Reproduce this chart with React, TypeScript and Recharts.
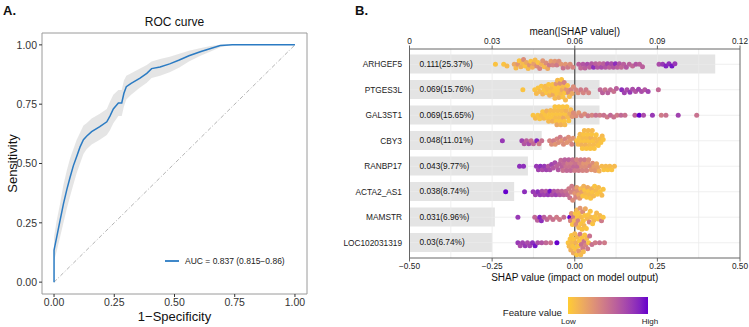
import React from "react";
import {
  ComposedChart,
  Line,
  Area,
  Bar,
  Scatter,
  XAxis,
  YAxis,
  ReferenceLine,
  ReferenceArea,
  LabelList,
  Legend,
} from "recharts";

const FONT = '"Liberation Sans", Arial, sans-serif';
const ROC_BLUE = "#2B7BC3";
const LOW_COLOR = "#FFCC33";
const HIGH_COLOR = "#6600CC";

// ---- panel A: ROC curve ----
const ROC_FPR = [0, 0, 0.011, 0.025, 0.039, 0.053, 0.066, 0.08, 0.094, 0.108, 0.122, 0.135, 0.156, 0.19, 0.219, 0.232, 0.246, 0.267, 0.281, 0.29, 0.3, 0.32, 0.357, 0.385, 0.405, 0.44, 0.48, 0.52, 0.56, 0.61, 0.65, 0.69, 0.74, 1];
const ROC_TPR = [0, 0.135, 0.19, 0.26, 0.33, 0.39, 0.44, 0.49, 0.53, 0.57, 0.6, 0.615, 0.634, 0.655, 0.676, 0.7, 0.73, 0.755, 0.755, 0.796, 0.824, 0.838, 0.86, 0.88, 0.9, 0.907, 0.92, 0.936, 0.954, 0.972, 0.985, 0.997, 1, 1];
const CI_LOW = [0, 0.09, 0.13, 0.19, 0.25, 0.31, 0.36, 0.41, 0.46, 0.5, 0.54, 0.56, 0.58, 0.6, 0.62, 0.64, 0.67, 0.7, 0.7, 0.74, 0.77, 0.79, 0.82, 0.84, 0.86, 0.87, 0.885, 0.905, 0.93, 0.955, 0.972, 0.99, 1, 1];
const CI_HIGH = [0, 0.19, 0.26, 0.33, 0.41, 0.47, 0.52, 0.56, 0.6, 0.63, 0.66, 0.67, 0.69, 0.71, 0.73, 0.76, 0.79, 0.81, 0.81, 0.85, 0.87, 0.88, 0.9, 0.915, 0.93, 0.94, 0.95, 0.963, 0.975, 0.987, 0.995, 1, 1, 1];
const ROC_TICKS = [0, 0.25, 0.5, 0.75, 1];
const AUC_LABEL = "AUC = 0.837 (0.815\u22120.86)";

const rocData = ROC_FPR.map((fpr, i) => ({
  fpr,
  tpr: ROC_TPR[i],
  band: [CI_LOW[i], CI_HIGH[i]],
}));

// ---- panel B: SHAP summary ----
const FEATURES = ["ARHGEF5", "PTGES3L", "GAL3ST1", "CBY3", "RANBP17", "ACTA2_AS1", "MAMSTR", "LOC102031319"];
const MEAN_SHAP = [0.111, 0.069, 0.069, 0.048, 0.043, 0.038, 0.031, 0.03];
const SHARE = ["25.37%", "15.76%", "15.65%", "11.01%", "9.77%", "8.74%", "6.96%", "6.74%"];
const TOP_TICKS = [0, 0.03, 0.06, 0.09, 0.12];
const SHAP_TICKS = [-0.5, -0.25, 0, 0.25, 0.5];
const GRID_X = [-0.375, -0.25, -0.125, 0.125, 0.25, 0.375];

// [shap value, scaled feature value]
const ARHGEF5_PTS = [
  [-0.24, 0.05], [-0.215, 0.05], [-0.205, 0.1], [-0.183, 0.2], [-0.178, 0.1], [-0.172, 0.3], [-0.168, 0.05], [-0.163, 0.15], [-0.158, 0.1], [-0.155, 0.35], [-0.15, 0.05], [-0.146, 0.2], [-0.141, 0.1], [-0.137, 0.3], [-0.133, 0.05], [-0.128, 0.15], [-0.124, 0.25], [-0.12, 0.1], [-0.115, 0.35], [-0.111, 0.05], [-0.106, 0.4], [-0.101, 0.15], [-0.097, 0.3], [-0.092, 0.1], [-0.087, 0.35], [-0.082, 0.2], [-0.077, 0.45], [-0.072, 0.25], [-0.066, 0.4], [-0.06, 0.3], [-0.054, 0.45], [-0.048, 0.35], [-0.041, 0.3], [-0.035, 0.5], [-0.028, 0.3], [-0.021, 0.45], [-0.014, 0.35], [-0.006, 0.4],
  [0.012, 0.6], [0.018, 0.55], [0.025, 0.65], [0.031, 0.6], [0.038, 0.7], [0.045, 0.6], [0.051, 0.65], [0.057, 0.85], [0.063, 0.6], [0.069, 0.65], [0.075, 0.55], [0.081, 0.7], [0.087, 0.6], [0.093, 0.65], [0.099, 0.75], [0.105, 0.6], [0.111, 0.7], [0.117, 0.65], [0.123, 0.85], [0.129, 0.6], [0.135, 0.65], [0.141, 0.55], [0.148, 0.6], [0.156, 0.65], [0.165, 0.6], [0.175, 0.55], [0.185, 0.65], [0.196, 0.6], [0.205, 0.6],
  [0.255, 0.7], [0.266, 0.8], [0.276, 0.9], [0.285, 0.85], [0.294, 0.95], [0.303, 0.8],
];
const PTGES3L_PTS = [
  [-0.157, 0.05], [-0.121, 0.05], [-0.116, 0.1], [-0.111, 0.05], [-0.106, 0.1], [-0.101, 0.05], [-0.097, 0.15], [-0.093, 0.05], [-0.089, 0.1], [-0.085, 0.05], [-0.082, 0.1], [-0.079, 0.05], [-0.076, 0.15], [-0.073, 0.05], [-0.07, 0.1], [-0.067, 0.05], [-0.065, 0.2], [-0.062, 0.05], [-0.06, 0.1], [-0.058, 0.05], [-0.056, 0.3], [-0.054, 0.05], [-0.052, 0.1], [-0.05, 0.05], [-0.048, 0.15], [-0.046, 0.05], [-0.044, 0.35], [-0.042, 0.1], [-0.04, 0.05], [-0.038, 0.2], [-0.036, 0.05], [-0.034, 0.1], [-0.032, 0.4], [-0.03, 0.05], [-0.028, 0.1], [-0.025, 0.3], [-0.022, 0.05], [-0.019, 0.35], [-0.016, 0.1], [-0.012, 0.4], [-0.008, 0.2], [-0.004, 0.35],
  [0.003, 0.4], [0.01, 0.35], [0.018, 0.45], [0.026, 0.4], [0.034, 0.45], [0.042, 0.4],
  [0.077, 0.55], [0.084, 0.6], [0.092, 0.5], [0.1, 0.6], [0.108, 0.55], [0.118, 0.5], [0.126, 0.6],
  [0.142, 0.85], [0.15, 0.75], [0.158, 0.7], [0.167, 0.8], [0.175, 0.7], [0.184, 0.65], [0.193, 0.75], [0.202, 0.7], [0.212, 0.65], [0.222, 0.75], [0.253, 0.55],
];
const GAL3ST1_PTS = [
  [-0.126, 0.05], [-0.119, 0.1], [-0.112, 0.05], [-0.106, 0.05], [-0.101, 0.1], [-0.097, 0.05], [-0.093, 0.1], [-0.089, 0.05], [-0.085, 0.15], [-0.082, 0.05], [-0.079, 0.1], [-0.076, 0.05], [-0.073, 0.1], [-0.07, 0.05], [-0.067, 0.15], [-0.064, 0.05], [-0.062, 0.1], [-0.06, 0.05], [-0.058, 0.1], [-0.056, 0.05], [-0.054, 0.2], [-0.052, 0.05], [-0.05, 0.1], [-0.048, 0.05], [-0.046, 0.1], [-0.044, 0.05], [-0.042, 0.15], [-0.04, 0.05], [-0.038, 0.1], [-0.036, 0.05], [-0.034, 0.2], [-0.032, 0.05], [-0.03, 0.1], [-0.028, 0.05], [-0.026, 0.15], [-0.024, 0.05], [-0.021, 0.1], [-0.018, 0.05], [-0.015, 0.2], [-0.012, 0.1], [-0.008, 0.3], [-0.004, 0.35],
  [0.004, 0.35], [0.012, 0.3], [0.02, 0.4], [0.03, 0.35], [0.04, 0.45], [0.052, 0.4], [0.064, 0.5], [0.076, 0.45], [0.088, 0.5], [0.098, 0.45], [0.108, 0.55], [0.118, 0.5], [0.128, 0.45], [0.14, 0.55], [0.152, 0.5],
  [0.182, 0.6], [0.195, 1], [0.208, 0.7], [0.235, 0.8], [0.262, 0.45], [0.276, 0.5], [0.313, 0.75], [0.369, 0.5],
];
const CBY3_PTS = [
  [-0.219, 0.8], [-0.16, 0.75], [-0.153, 0.65], [-0.146, 0.6], [-0.139, 0.7], [-0.132, 0.5], [-0.125, 0.55], [-0.115, 0.9], [-0.108, 0.45], [-0.1, 0.5],
  [-0.076, 0.4], [-0.07, 0.35], [-0.064, 0.45], [-0.059, 0.3], [-0.054, 0.4], [-0.049, 0.35], [-0.044, 0.45], [-0.039, 0.3], [-0.034, 0.35], [-0.029, 0.4], [-0.024, 0.3], [-0.019, 0.35], [-0.014, 0.3], [-0.009, 0.4], [-0.005, 0.3],
  [0.006, 0.05], [0.01, 0.1], [0.013, 0.05], [0.016, 0.1], [0.019, 0.05], [0.021, 0.15], [0.023, 0.05], [0.025, 0.1], [0.027, 0.05], [0.029, 0.1], [0.031, 0.05], [0.033, 0.15], [0.035, 0.05], [0.037, 0.1], [0.039, 0.05], [0.041, 0.1], [0.043, 0.05], [0.045, 0.1], [0.047, 0.05], [0.049, 0.15], [0.051, 0.05], [0.053, 0.1], [0.055, 0.05], [0.057, 0.1], [0.059, 0.05], [0.062, 0.1], [0.065, 0.05], [0.068, 0.1], [0.071, 0.05], [0.075, 0.1], [0.079, 0.05], [0.083, 0.1], [0.086, 0.05],
];
const RANBP17_PTS = [
  [-0.167, 0.85], [-0.155, 0.85], [-0.116, 0.8], [-0.11, 0.75], [-0.104, 0.85], [-0.098, 0.7], [-0.092, 0.8], [-0.086, 0.75], [-0.08, 0.65], [-0.075, 0.7], [-0.07, 0.75], [-0.065, 0.65], [-0.06, 0.7], [-0.055, 0.6], [-0.05, 0.65], [-0.046, 0.6],
  [-0.042, 0.55], [-0.039, 0.6], [-0.036, 0.5], [-0.033, 0.55], [-0.03, 0.6], [-0.027, 0.5], [-0.024, 0.55], [-0.021, 0.45], [-0.018, 0.6], [-0.015, 0.5], [-0.012, 0.55], [-0.009, 0.45], [-0.006, 0.5], [-0.003, 0.55], [0, 0.45], [0.003, 0.5], [0.006, 0.4], [0.009, 0.55], [0.012, 0.45], [0.015, 0.4],
  [0.018, 0.45], [0.021, 0.35], [0.024, 0.4], [0.027, 0.3], [0.03, 0.45], [0.033, 0.35], [0.036, 0.4], [0.039, 0.3], [0.042, 0.35], [0.046, 0.4], [0.05, 0.3], [0.054, 0.35], [0.058, 0.25], [0.062, 0.3], [0.066, 0.2], [0.07, 0.25], [0.074, 0.15],
  [0.082, 0.1], [0.088, 0.05], [0.094, 0.1], [0.1, 0.05], [0.106, 0.1], [0.112, 0.05], [0.12, 0.1],
];
const ACTA2_AS1_PTS = [
  [-0.209, 1], [-0.152, 0.85], [-0.126, 0.8], [-0.119, 0.75], [-0.112, 0.85], [-0.105, 0.8], [-0.099, 0.7], [-0.093, 0.75], [-0.087, 0.65], [-0.081, 0.8], [-0.075, 0.95], [-0.069, 0.7], [-0.063, 0.65], [-0.057, 0.75], [-0.051, 0.6], [-0.045, 0.65], [-0.039, 0.55], [-0.033, 0.6], [-0.027, 0.5], [-0.022, 0.55],
  [-0.018, 0.45], [-0.015, 0.5], [-0.012, 0.4], [-0.009, 0.45], [-0.006, 0.35], [-0.003, 0.4], [0, 0.3], [0.003, 0.4], [0.006, 0.25], [0.009, 0.35], [0.012, 0.2], [0.015, 0.3], [0.018, 0.1], [0.021, 0.25], [0.024, 0.05], [0.027, 0.15], [0.03, 0.05], [0.033, 0.1], [0.036, 0.05], [0.039, 0.2], [0.042, 0.05], [0.045, 0.1], [0.048, 0.05], [0.051, 0.15], [0.054, 0.05], [0.057, 0.1], [0.06, 0.05], [0.064, 0.1], [0.068, 0.05], [0.072, 0.1], [0.077, 0.05], [0.082, 0.1], [0.086, 0.05],
];
const MAMSTR_PTS = [
  [-0.172, 0.8], [-0.121, 0.55], [-0.113, 0.6], [-0.106, 0.9], [-0.101, 0.85], [-0.093, 0.6], [-0.084, 0.55], [-0.075, 0.5], [-0.066, 0.5], [-0.055, 0.45], [-0.046, 0.45], [-0.033, 0.5], [-0.015, 1],
  [-0.013, 0.4], [-0.01, 0.3], [-0.007, 0.05], [-0.004, 0.45], [-0.001, 0.1], [0.002, 0.05], [0.004, 0.35], [0.006, 0.1], [0.008, 0.05], [0.01, 0.4], [0.012, 0.1], [0.014, 0.05], [0.016, 0.3], [0.018, 0.05], [0.02, 0.1], [0.022, 0.05], [0.024, 0.35], [0.026, 0.05], [0.028, 0.1], [0.03, 0.05], [0.032, 0.2], [0.035, 0.05], [0.038, 0.1], [0.041, 0.05], [0.044, 0.4], [0.047, 0.05], [0.05, 0.1], [0.054, 0.05], [0.058, 0.1], [0.062, 0.05], [0.066, 0.1], [0.071, 0.05], [0.076, 0.1], [0.081, 0.45], [0.086, 0.05],
];
const LOC102031319_PTS = [
  [-0.172, 0.8], [-0.165, 0.7], [-0.158, 0.75], [-0.15, 0.8], [-0.143, 0.7], [-0.136, 0.75], [-0.128, 0.85], [-0.12, 0.95], [-0.112, 0.7], [-0.1, 0.65], [-0.087, 0.55], [-0.073, 0.5], [-0.054, 1],
  [-0.02, 0.05], [-0.017, 0.1], [-0.014, 0.05], [-0.012, 0.15], [-0.01, 0.05], [-0.008, 0.1], [-0.006, 0.05], [-0.004, 0.2], [-0.002, 0.05], [0, 0.1], [0.002, 0.05], [0.004, 0.15], [0.006, 0.05], [0.008, 0.1], [0.01, 0.05], [0.012, 0.3], [0.014, 0.05], [0.016, 0.45], [0.018, 0.1], [0.02, 0.5], [0.022, 0.05], [0.024, 0.45], [0.026, 0.1], [0.028, 0.5], [0.03, 0.05], [0.033, 0.4], [0.036, 0.1], [0.039, 0.45], [0.042, 0.05], [0.045, 0.5],
  [0.052, 0.5], [0.062, 0.45], [0.075, 0.5], [0.09, 0.45],
];
const ROW_POINTS = [ARHGEF5_PTS, PTGES3L_PTS, GAL3ST1_PTS, CBY3_PTS, RANBP17_PTS, ACTA2_AS1_PTS, MAMSTR_PTS, LOC102031319_PTS];

// colour ramp in CIELAB, like ggplot's gradient scale
function hexToRgb(h: string) {
  return [1, 3, 5].map((i) => parseInt(h.slice(i, i + 2), 16));
}
function toLab(hex: string) {
  const [r, g, b] = hexToRgb(hex).map((c) => {
    const v = c / 255;
    return v <= 0.04045 ? v / 12.92 : Math.pow((v + 0.055) / 1.055, 2.4);
  });
  const X = (0.4124 * r + 0.3576 * g + 0.1805 * b) / 0.95047;
  const Y = 0.2126 * r + 0.7152 * g + 0.0722 * b;
  const Z = (0.0193 * r + 0.1192 * g + 0.9505 * b) / 1.08883;
  const f = (t: number) => (t > 0.008856 ? Math.cbrt(t) : 7.787 * t + 16 / 116);
  const fx = f(X), fy = f(Y), fz = f(Z);
  return [116 * fy - 16, 500 * (fx - fy), 200 * (fy - fz)];
}
function fromLab([L, a, bb]: number[]) {
  const fy = (L + 16) / 116;
  const fx = fy + a / 500;
  const fz = fy - bb / 200;
  const inv = (t: number) => (t ** 3 > 0.008856 ? t ** 3 : (t - 16 / 116) / 7.787);
  const X = inv(fx) * 0.95047, Y = inv(fy), Z = inv(fz) * 1.08883;
  const lin = [
    3.2406 * X - 1.5372 * Y - 0.4986 * Z,
    -0.9689 * X + 1.8758 * Y + 0.0415 * Z,
    0.0557 * X - 0.204 * Y + 1.057 * Z,
  ];
  return (
    "#" +
    lin
      .map((c) => {
        const v = c <= 0.0031308 ? 12.92 * c : 1.055 * Math.pow(c, 1 / 2.4) - 0.055;
        return Math.round(Math.max(0, Math.min(1, v)) * 255).toString(16).padStart(2, "0");
      })
      .join("")
  );
}
const LAB_LOW = toLab(LOW_COLOR);
const LAB_HIGH = toLab(HIGH_COLOR);
const rampColor = (t: number) => fromLab(LAB_LOW.map((v, i) => v + (LAB_HIGH[i] - v) * t));

// beeswarm-style vertical offsets so points don't sit on top of each other
const PX_PER_X = 330;
const PX_PER_ROW = 25.5;
function swarm(points: number[][], row: number) {
  const placed: { px: number; py: number }[] = [];
  const minDist = 3.6;
  const order = points.map((_, i) => i).sort((a, b) => points[a][0] - points[b][0]);
  return order.map((i) => {
    const px = points[i][0] * PX_PER_X;
    let py = 0;
    for (let k = 0; k < 80; k++) {
      const cand = k === 0 ? 0 : (k % 2 ? 1 : -1) * Math.ceil(k / 2) * 0.6;
      const ok = placed.every((q) => Math.abs(q.px - px) >= minDist || (q.px - px) ** 2 + (q.py - cand) ** 2 >= minDist * minDist);
      if (ok) {
        py = cand;
        break;
      }
    }
    placed.push({ px, py });
    return { x: points[i][0], y: row + py / PX_PER_ROW, color: rampColor(points[i][1]) };
  });
}

const barRows = FEATURES.map((name, i) => ({
  name,
  mean: MEAN_SHAP[i],
  label: `${MEAN_SHAP[i]}(${SHARE[i]})`,
}));
const dots = ROW_POINTS.flatMap((pts, i) => swarm(pts, i + 1));

const fmtShap = (v: number) => (v < 0 ? "\u2212" + Math.abs(v).toFixed(2) : v.toFixed(2));
const fmtTop = (v: number) => (v === 0 ? "0" : String(v));

const SwarmDot = (props: any) => (
  <circle cx={props.cx} cy={props.cy} r={2.5} fill={props.payload.color} />
);

const RocLegend = () => (
  <div style={{ display: "flex", alignItems: "center", fontFamily: FONT, fontSize: 8.5, color: "#222", whiteSpace: "nowrap" }}>
    <svg width={14} height={4} style={{ marginRight: 6 }}>
      <line x1={0} y1={2} x2={14} y2={2} stroke={ROC_BLUE} strokeWidth={1.8} />
    </svg>
    {AUC_LABEL}
  </div>
);

const ColorbarLegend = () => {
  const stops = Array.from({ length: 11 }, (_, i) => `${rampColor(i / 10)} ${i * 10}%`).join(", ");
  return (
    <div style={{ position: "relative", width: 200, height: 36, fontFamily: FONT, color: "#222" }}>
      <div style={{ position: "absolute", right: 102, top: 12, fontSize: 9.7, whiteSpace: "nowrap" }}>Feature value</div>
      <div style={{ position: "absolute", left: 104, top: 2, width: 80, height: 17, background: `linear-gradient(to right, ${stops})` }} />
      <div style={{ position: "absolute", left: 97, top: 22, fontSize: 8, width: 14, textAlign: "center" }}>Low</div>
      <div style={{ position: "absolute", left: 174, top: 22, fontSize: 8, width: 24, textAlign: "center" }}>High</div>
    </div>
  );
};

const txt = (extra: React.CSSProperties): React.CSSProperties => ({
  position: "absolute",
  fontFamily: FONT,
  color: "#111",
  whiteSpace: "nowrap",
  lineHeight: 1,
  ...extra,
});

export default function App() {
  return (
    <div style={{ position: "absolute", left: 0, top: 0, width: 749, height: 327, background: "#fff", overflow: "hidden" }}>
      <div style={txt({ left: 3, top: 4, fontSize: 13, fontWeight: "bold" })}>A.</div>
      <div style={txt({ left: 355, top: 4, fontSize: 13, fontWeight: "bold" })}>B.</div>
      <div style={txt({ left: 42, width: 265, top: 16, fontSize: 12, textAlign: "center" })}>ROC curve</div>

      <div style={{ position: "absolute", left: 0, top: 0 }}>
        <ComposedChart width={330} height={327} data={rocData} margin={{ top: 33, right: 23, bottom: 0, left: 0 }}>
          <XAxis
            type="number"
            dataKey="fpr"
            domain={[-0.05, 1.05]}
            ticks={ROC_TICKS}
            allowDataOverflow
            tickFormatter={(v: number) => v.toFixed(2)}
            height={33}
            axisLine={false}
            tickSize={3}
            tickMargin={2}
            tickLine={{ stroke: "#333" }}
            tick={{ fontSize: 10.5, fill: "#333", fontFamily: FONT }}
            label={{ value: "1\u2212Specificity", position: "insideBottom", offset: 6, fontSize: 13, fill: "#111", fontFamily: FONT }}
          />
          <YAxis
            type="number"
            domain={[-0.05, 1.05]}
            ticks={ROC_TICKS}
            allowDataOverflow
            tickFormatter={(v: number) => v.toFixed(2)}
            width={42}
            axisLine={false}
            tickSize={3}
            tickMargin={2}
            tickLine={{ stroke: "#333" }}
            tick={{ fontSize: 10.5, fill: "#333", fontFamily: FONT }}
            label={{ value: "Sensitivity", angle: -90, position: "insideLeft", offset: 12, fontSize: 13, fill: "#111", fontFamily: FONT, style: { textAnchor: "middle" } }}
          />
          <ReferenceArea x1={-0.05} x2={1.05} y1={-0.05} y2={1.05} fill="none" stroke="#9A9A9A" strokeWidth={1} />
          <Area type="linear" dataKey="band" fill="#DCDCDC" fillOpacity={0.75} stroke="none" isAnimationActive={false} />
          <ReferenceLine segment={[{ x: 0, y: 0 }, { x: 1, y: 1 }]} stroke="#A0A0A0" strokeWidth={0.8} strokeDasharray="4 2 1 2" />
          <Line type="linear" dataKey="tpr" stroke={ROC_BLUE} strokeWidth={1.5} dot={false} isAnimationActive={false} />
          <Legend layout="vertical" align="center" verticalAlign="middle" wrapperStyle={{ left: 165, top: 256, width: 140 }} content={RocLegend} />
        </ComposedChart>
      </div>

      <div style={{ position: "absolute", left: 334, top: 0 }}>
        <ComposedChart layout="vertical" width={415} height={327} data={barRows} margin={{ top: 19, right: 9, bottom: 39, left: 5.5 }}>
          <XAxis
            xAxisId="bar"
            type="number"
            orientation="top"
            domain={[0, 0.12]}
            ticks={TOP_TICKS}
            allowDataOverflow
            tickFormatter={fmtTop}
            height={30}
            stroke="#666"
            tickSize={3.5}
            tickMargin={1.5}
            tick={{ fontSize: 8.3, fill: "#222", fontFamily: FONT }}
            label={{ value: "mean(|SHAP value|)", position: "insideTop", offset: 9, fontSize: 10, fill: "#111", fontFamily: FONT }}
          />
          <XAxis
            xAxisId="shap"
            dataKey="x"
            type="number"
            orientation="bottom"
            domain={[-0.5, 0.5]}
            ticks={SHAP_TICKS}
            allowDataOverflow
            tickFormatter={fmtShap}
            height={30}
            stroke="#666"
            tickSize={3.5}
            tickMargin={1.5}
            tick={{ fontSize: 8.3, fill: "#222", fontFamily: FONT }}
            label={{ value: "SHAP value (impact on model output)", position: "insideBottom", offset: 7, fontSize: 10, fill: "#111", fontFamily: FONT }}
          />
          <YAxis
            yAxisId="cat"
            type="category"
            dataKey="name"
            width={70}
            padding={{ top: 2.5, bottom: 2.5 }}
            stroke="#666"
            tickLine={false}
            tickSize={4}
            tickMargin={3.5}
            tick={{ fontSize: 8.3, fill: "#222", fontFamily: FONT }}
          />
          <YAxis yAxisId="num" dataKey="y" type="number" domain={[0.4, 8.6]} allowDataOverflow hide />
          {GRID_X.map((v) => (
            <ReferenceLine key={`gx${v}`} x={v} xAxisId="shap" yAxisId="num" stroke="#EBEBEB" strokeWidth={0.8} />
          ))}
          {FEATURES.map((f, i) => (
            <ReferenceLine key={`gy${f}`} y={i + 1} xAxisId="shap" yAxisId="num" stroke="#EBEBEB" strokeWidth={0.8} />
          ))}
          <Bar dataKey="mean" xAxisId="bar" yAxisId="cat" fill="#E4E4E4" barSize={19} isAnimationActive={false}>
            <LabelList dataKey="label" position="insideLeft" offset={10} style={{ fontSize: 8.3, fill: "#111", fontFamily: FONT }} />
          </Bar>
          <ReferenceLine x={0.5} xAxisId="shap" yAxisId="num" stroke="#666" strokeWidth={1} />
          <ReferenceLine x={0} xAxisId="shap" yAxisId="num" stroke="#555" strokeWidth={1.3} />
          <Scatter data={dots} xAxisId="shap" yAxisId="num" shape={SwarmDot} isAnimationActive={false} />
          <Legend layout="vertical" align="center" verticalAlign="middle" wrapperStyle={{ left: 130, top: 295, width: 200 }} content={ColorbarLegend} />
        </ComposedChart>
      </div>
    </div>
  );
}
